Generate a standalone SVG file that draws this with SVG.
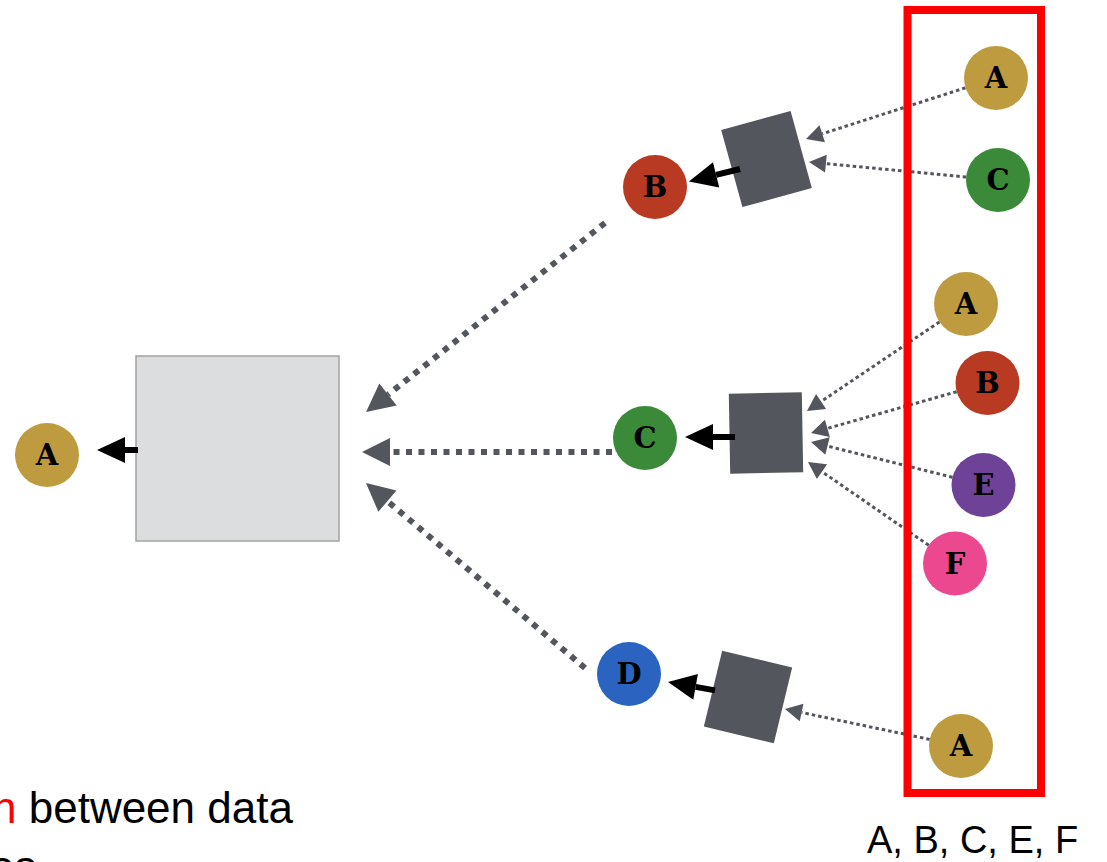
<svg xmlns="http://www.w3.org/2000/svg" width="1107" height="862" viewBox="0 0 1107 862">
<style>
.lbl{font-family:"DejaVu Serif","Liberation Serif",serif;font-weight:bold;font-size:29px;fill:#000;text-anchor:middle}
.txt{font-family:"Liberation Sans","DejaVu Sans",sans-serif;fill:#000}
.blk{stroke:#000;stroke-width:6;fill:none}
.big{stroke:#53565C;stroke-width:6;stroke-dasharray:6 6.5;fill:none}
.sml{stroke:#53565C;stroke-width:3;stroke-dasharray:3.5 3;fill:none}
.sq{fill:#53565C}
</style>
<defs>
<marker id="hb" markerUnits="userSpaceOnUse" markerWidth="30" markerHeight="28" refX="0" refY="13" orient="auto" overflow="visible"><path d="M0,0 L28,13 L0,26 z" fill="#000"/></marker>
<marker id="hg" markerUnits="userSpaceOnUse" markerWidth="30" markerHeight="30" refX="0" refY="14" orient="auto" overflow="visible"><path d="M0,0 L28,14 L0,28 z" fill="#53565C"/></marker>
<marker id="hs" markerUnits="userSpaceOnUse" markerWidth="18" markerHeight="18" refX="0" refY="9" orient="auto" overflow="visible"><path d="M0,0 L17,9 L0,18 z" fill="#53565C"/></marker>
</defs>

<g id="bigbox"><rect x="136" y="356" width="203" height="185" fill="#DCDDDF" stroke="#A3A3A3" stroke-width="1.5"/></g>
<g id="sq-top"><rect x="-36" y="-40" width="72" height="80" class="sq" transform="translate(766.5,159) rotate(-15.4)"/></g>
<g id="sq-mid"><rect x="-36.5" y="-40" width="73" height="80" class="sq" transform="translate(766,433) rotate(-1)"/></g>
<g id="sq-bot"><rect x="-36" y="-39" width="72" height="78" class="sq" transform="translate(748,697) rotate(13.6)"/></g>

<g id="connectors">
<path class="blk" d="M138,450 L125,450" marker-end="url(#hb)"/>
<path class="blk" d="M740,169 L716.1,174.9" marker-end="url(#hb)"/>
<path class="blk" d="M735,437 L713,437" marker-end="url(#hb)"/>
<path class="blk" d="M715,690.4 L695.6,686.9" marker-end="url(#hb)"/>
<path class="big" d="M605,223 L388,394.6" marker-end="url(#hg)"/>
<path class="big" d="M612,452 L390,452" marker-end="url(#hg)"/>
<path class="big" d="M585,668 L387.4,501.1" marker-end="url(#hg)"/>
<path class="sml" d="M965.5,87.8 L822.2,133.8" marker-end="url(#hs)"/>
<path class="sml" d="M966.2,177 L825.9,163.6" marker-end="url(#hs)"/>
<path class="sml" d="M939.5,321.9 L821.1,401.5" marker-end="url(#hs)"/>
<path class="sml" d="M956.7,391.7 L827.4,428.4" marker-end="url(#hs)"/>
<path class="sml" d="M952.5,477.3 L827.5,446.1" marker-end="url(#hs)"/>
<path class="sml" d="M928.7,545.3 L822,471.7" marker-end="url(#hs)"/>
<path class="sml" d="M929.7,739.4 L801.6,712.5" marker-end="url(#hs)"/>
</g>

<g id="redbox"><rect x="907.5" y="10" width="133.5" height="783" fill="none" stroke="#FF0000" stroke-width="8"/></g>

<g id="n-A-left"><circle cx="47" cy="455" r="32" fill="#BE9B3F"/><text class="lbl" x="47" y="465">A</text></g>
<g id="n-B"><circle cx="655" cy="187" r="32" fill="#B93A22"/><text class="lbl" x="655" y="197">B</text></g>
<g id="n-C"><circle cx="645" cy="438" r="32" fill="#3B8A3A"/><text class="lbl" x="645" y="448">C</text></g>
<g id="n-D"><circle cx="629" cy="674" r="32" fill="#2A64C0"/><text class="lbl" x="629" y="684">D</text></g>
<g id="n-A1"><circle cx="996" cy="78" r="32" fill="#BE9B3F"/><text class="lbl" x="996" y="88">A</text></g>
<g id="n-C1"><circle cx="998" cy="180" r="32" fill="#3B8A3A"/><text class="lbl" x="998" y="190">C</text></g>
<g id="n-A2"><circle cx="966" cy="304" r="32" fill="#BE9B3F"/><text class="lbl" x="966" y="314">A</text></g>
<g id="n-B2"><circle cx="987.5" cy="383" r="32" fill="#B93A22"/><text class="lbl" x="987.5" y="393">B</text></g>
<g id="n-E2"><circle cx="983.5" cy="485" r="32" fill="#6E4397"/><text class="lbl" x="983.5" y="495">E</text></g>
<g id="n-F2"><circle cx="955" cy="563.5" r="32" fill="#EC4890"/><text class="lbl" x="955" y="573.5">F</text></g>
<g id="n-A3"><circle cx="961" cy="746" r="32" fill="#BE9B3F"/><text class="lbl" x="961" y="756">A</text></g>

<text class="txt" x="867" y="853" font-size="38">A, B, C, E, F</text>
<text class="txt" x="-8" y="823" font-size="44"><tspan fill="#FF0000">n</tspan> between data</text>
<text class="txt" x="-10" y="882" font-size="44">es</text>
</svg>
